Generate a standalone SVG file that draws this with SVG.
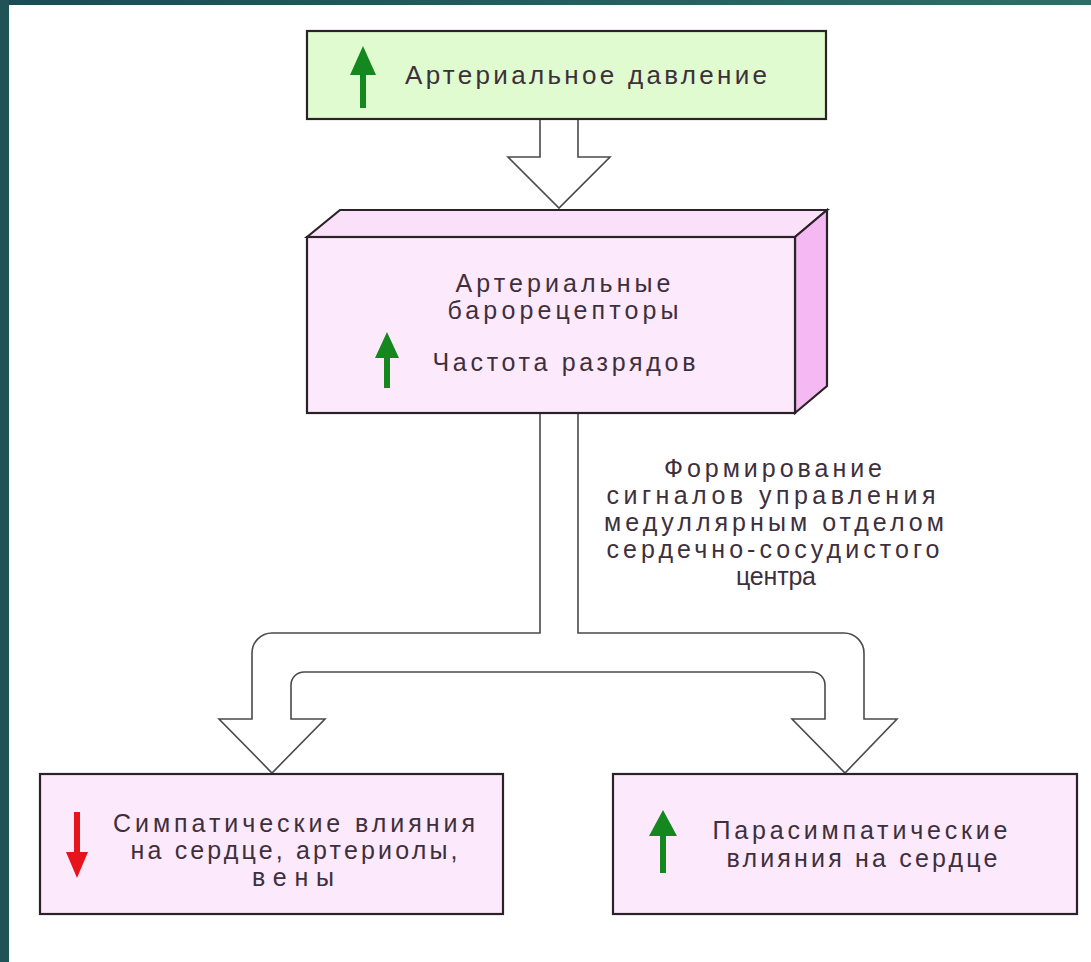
<svg xmlns="http://www.w3.org/2000/svg" width="1091" height="962" viewBox="0 0 1091 962">
<defs>
<linearGradient id="topbar" x1="0" y1="0" x2="1" y2="0">
<stop offset="0" stop-color="#1c4a56"/>
<stop offset="1" stop-color="#2f6d67"/>
</linearGradient>
<style>
.box{stroke:#2a2228;stroke-width:2.2}
.pink{fill:#fde9fc}
.txt{font-family:"Liberation Sans",Arial,sans-serif;font-size:25px;fill:#3d303c;text-anchor:middle}
.conn{fill:#ffffff;stroke:#4a4a4a;stroke-width:1.6;stroke-linejoin:miter}
.up{fill:#14881f}
.down{fill:#e8141c}
</style>
</defs>
<rect x="0" y="0" width="1091" height="962" fill="#ffffff"/>
<rect x="0" y="0" width="1091" height="5" fill="url(#topbar)"/>
<rect x="0" y="0" width="9" height="962" fill="#1f5358"/>

<g id="connectors">
<polygon class="conn" points="540,119 540,157 508,157 559,208 610,157 578,157 578,119"/>
<path class="conn" d="M540,413 L540,633 L272,633 A20,20 0 0 0 252,653 L252,719 L219,719 L272,773 L325,719 L291,719 L291,685 A13,13 0 0 1 304,672 L812,672 A13,13 0 0 1 825,685 L825,719 L792,719 L845,773 L897,719 L864,719 L864,653 A20,20 0 0 0 844,633 L578,633 L578,413"/>
<g id="label-signals">
<text class="txt" x="773" y="477" textLength="218" lengthAdjust="spacing">Формирование</text>
<text class="txt" x="771" y="504" textLength="329" lengthAdjust="spacing">сигналов управления</text>
<text class="txt" x="774" y="531" textLength="340" lengthAdjust="spacing">медуллярным отделом</text>
<text class="txt" x="773" y="558" textLength="333" lengthAdjust="spacing">сердечно-сосудистого</text>
<text class="txt" x="776" y="585" textLength="80" lengthAdjust="spacing">центра</text>
</g>
</g>

<g id="node-pressure">
<rect class="box" x="307" y="31" width="519" height="88" fill="#e0fbcf"/>
<path class="up" d="M363,46 L376,75 L366,75 L366,108 L360,108 L360,75 L350,75 Z"/>
<text class="txt" x="586" y="84" textLength="362" lengthAdjust="spacing" style="font-size:26px">Артериальное давление</text>
</g>

<g id="node-baroreceptors">
<polygon class="box" points="307,237 340,210 827,210 795,237" fill="#fbe0fa"/>
<polygon class="box" points="795,237 827,210 827,386 795,413" fill="#f4b8f2"/>
<rect class="box pink" x="307" y="237" width="488" height="176"/>
<path class="up" d="M387,332 L399,358 L390,358 L390,388 L384,388 L384,358 L375,358 Z"/>
<text class="txt" x="563" y="292" textLength="215" lengthAdjust="spacing">Артериальные</text>
<text class="txt" x="563" y="319" textLength="231" lengthAdjust="spacing">барорецепторы</text>
<text class="txt" x="564" y="371" textLength="263" lengthAdjust="spacing">Частота разрядов</text>
</g>

<g id="node-sympathetic">
<rect class="box pink" x="40" y="774" width="463" height="140"/>
<path class="down" d="M77,878 L88,852 L80,852 L80,812 L74,812 L74,852 L66,852 Z"/>
<text class="txt" x="294" y="832" textLength="362" lengthAdjust="spacing">Симпатические влияния</text>
<text class="txt" x="294" y="859" textLength="327" lengthAdjust="spacing">на сердце, артериолы,</text>
<text class="txt" x="293" y="886" textLength="82" lengthAdjust="spacing">вены</text>
</g>

<g id="node-parasympathetic">
<rect class="box pink" x="613" y="774" width="464" height="140"/>
<path class="up" d="M663,810 L677,836 L666,836 L666,873 L660,873 L660,836 L649,836 Z"/>
<text class="txt" x="860" y="839" textLength="295" lengthAdjust="spacing">Парасимпатические</text>
<text class="txt" x="862" y="867" textLength="271" lengthAdjust="spacing">влияния на сердце</text>
</g>
</svg>
